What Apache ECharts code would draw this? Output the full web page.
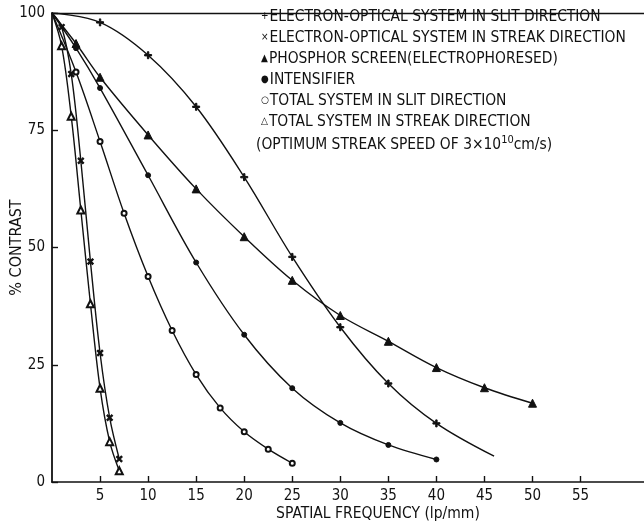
<!DOCTYPE html>
<html>
<head>
<meta charset="utf-8">
<script src="https://cdn.jsdelivr.net/npm/echarts@6/dist/echarts.min.js"></script>
<style>
  html, body { margin: 0; padding: 0; background: #fff; }
  #chart { width: 644px; height: 522px; }
</style>
</head>
<body>
<div id="chart"></div>
<script>
// Modulation transfer curves: % contrast against spatial frequency (lp/mm)
const xTicks = [5, 10, 15, 20, 25, 30, 35, 40, 45, 50, 55];
const yTicks = [0, 25, 50, 75, 100];

// [frequency, % contrast]
const slitElectronOptical = [[0,100],[5,98],[10,91],[15,80],[20,65],[25,48],[30,33],[35,21],[40,12.5],[46,5.5]];
const streakElectronOptical = [[0,100],[1,97],[2,87],[3,68.5],[4,47],[5,27.5],[6,13.7],[7,4.9]];
const phosphorScreen = [[0,100],[2.5,93.5],[5,86.3],[10,74],[15,62.5],[20,52.3],[25,43],[30,35.5],[35,30],[40,24.4],[45,20.1],[50,16.8]];
const intensifier = [[0,100],[2.5,92.5],[5,84],[10,65.4],[15,46.8],[20,31.4],[25,20],[30,12.6],[35,7.9],[40,4.8]];
const totalSlit = [[0,100],[2.5,87.4],[5,72.6],[7.5,57.3],[10,43.8],[12.5,32.3],[15,22.9],[17.5,15.8],[20,10.7],[22.5,7],[25,4]];
const totalStreak = [[0,100],[1,93],[2,78],[3,58],[4,38],[5,20],[6,8.6],[7,2.4]];

// key marker glyph + description, one line each
const legendMarks = ['+', '×', '▲', '●', '○', '△'];
const legendLabels = [
  'ELECTRON-OPTICAL SYSTEM IN SLIT DIRECTION',
  'ELECTRON-OPTICAL SYSTEM IN STREAK DIRECTION',
  'PHOSPHOR SCREEN(ELECTROPHORESED)',
  'INTENSIFIER',
  'TOTAL SYSTEM IN SLIT DIRECTION',
  'TOTAL SYSTEM IN STREAK DIRECTION'
];
const legendNote = '(OPTIMUM STREAK SPEED OF 3×10{s|10}cm/s)';

const INK = '#111';
const FONT = '"DejaVu Sans Condensed", "DejaVu Sans", sans-serif';
const PLUS = 'path://M4,0H6V4H10V6H6V10H4V6H0V4H4Z';

// one measured curve; the origin point and any trailing point carry no marker
function curve(data, symbol, size, opts, bareLast) {
  return Object.assign({
    type: 'line',
    smooth: 0.35,
    data: data.map((p, i) => (i === 0 || (bareLast && i === data.length - 1)) ? { value: p, symbol: 'none' } : p),
    symbol: symbol,
    symbolSize: size,
    showAllSymbol: true,
    lineStyle: { color: INK, width: 1.4, type: 'solid' },
    itemStyle: { color: INK, borderColor: INK, borderWidth: 1 },
    emphasis: { disabled: true },
    silent: true,
    z: 3
  }, opts || {});
}

const chart = echarts.init(document.getElementById('chart'), null, { renderer: 'canvas' });

const legendText = legendLabels.map((t, i) => ({
  type: 'text',
  left: 261,
  top: 9 + i * 21,
  style: {
    text: '{m|' + legendMarks[i] + '}' + t,
    fill: INK,
    font: '15.4px ' + FONT,
    rich: { m: { fontSize: 10, fontFamily: FONT, padding: [0, 1, 0, 0] } }
  }
}));
legendText.push({
  type: 'text',
  left: 256,
  top: 135,
  style: {
    text: legendNote,
    fill: INK,
    font: '15.4px ' + FONT,
    rich: { s: { fontSize: 11, fontFamily: FONT, verticalAlign: 'top', padding: [0, 0, 8, 0] } }
  }
});

chart.setOption({
  animation: false,
  backgroundColor: '#fff',
  grid: { left: 52, right: 0, top: 13, bottom: 40, containLabel: false, outerBoundsMode: 'none' },
  xAxis: [{
    type: 'value',
    min: 0,
    max: 61.6,
    interval: 5,
    name: 'SPATIAL FREQUENCY (lp/mm)',
    nameLocation: 'middle',
    nameGap: 24,
    nameMoveOverlap: false,
    nameTextStyle: { color: INK, fontFamily: FONT, fontSize: 15.5, padding: [0, 0, 0, 60] },
    axisLine: { show: true, lineStyle: { color: INK, width: 1.6 } },
    axisTick: { show: true, inside: true, length: 6, customValues: xTicks, lineStyle: { color: INK, width: 1.4 } },
    axisLabel: { customValues: xTicks, color: INK, fontFamily: FONT, fontSize: 15, margin: 7 },
    splitLine: { show: false }
  }, {
    type: 'value',
    position: 'top',
    min: 0,
    max: 61.6,
    axisLine: { show: true, lineStyle: { color: INK, width: 1.4 } },
    axisTick: { show: false },
    axisLabel: { show: false },
    splitLine: { show: false }
  }],
  yAxis: {
    type: 'value',
    min: 0,
    max: 100,
    interval: 25,
    name: '% CONTRAST',
    nameLocation: 'middle',
    nameGap: 27,
    nameMoveOverlap: false,
    nameTextStyle: { color: INK, fontFamily: FONT, fontSize: 16 },
    axisLine: { show: true, lineStyle: { color: INK, width: 1.8 } },
    axisTick: { show: true, inside: true, length: 6, customValues: yTicks, lineStyle: { color: INK, width: 1.4 } },
    axisLabel: { customValues: yTicks, color: INK, fontFamily: FONT, fontSize: 15, margin: 7 },
    splitLine: { show: false }
  },
  series: [
    curve(slitElectronOptical, PLUS, 7, null, true),
    curve(streakElectronOptical, PLUS, 7, { symbolRotate: 45 }),
    curve(phosphorScreen, 'triangle', 8),
    curve(intensifier, 'circle', 5),
    curve(totalSlit, 'emptyCircle', 5, { itemStyle: { color: INK, borderColor: INK, borderWidth: 1.2 } }),
    curve(totalStreak, 'emptyTriangle', 7, { itemStyle: { color: INK, borderColor: INK, borderWidth: 1.2 } })
  ],
  graphic: legendText
});
</script>
</body>
</html>
